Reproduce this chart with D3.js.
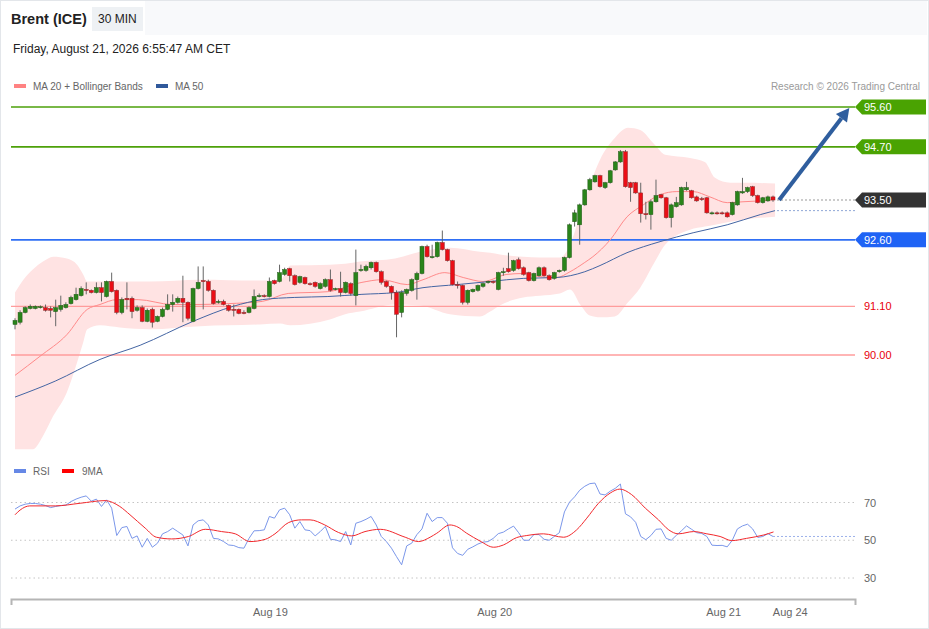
<!DOCTYPE html>
<html>
<head>
<meta charset="utf-8">
<script src="https://cdn.jsdelivr.net/npm/d3@7"></script>
<style>
  html, body { margin: 0; padding: 0; background: #fff; }
  svg { display: block; font-family: "Liberation Sans", Arial, sans-serif; }
</style>
</head>
<body>
<div id="chart"></div>
<script>
// 30 min candles, index 0 = first bar on the left
const opens = [
  90.69, 90.74, 90.96, 91.05, 91.05, 91.07, 91.07, 91.05, 90.98, 91.03,
  91.07, 91.16, 91.25, 91.34, 91.48, 91.46, 91.41, 91.52, 91.32, 91.66,
  91.46, 90.96, 91.28, 91.28, 91.01, 91.07, 90.76, 91.03, 90.76, 90.87,
  91.03, 91.14, 91.19, 91.28, 91.19, 90.76, 91.50, 91.68, 91.66, 91.46,
  91.19, 91.21, 91.12, 91.03, 91.03, 90.96, 90.96, 91.05, 91.32, 91.34,
  91.32, 91.68, 91.66, 91.82, 91.95, 91.79, 91.64, 91.75, 91.61, 91.64,
  91.50, 91.55, 91.70, 91.48, 91.50, 91.41, 91.61, 91.34, 91.91, 91.91,
  91.97, 92.09, 91.88, 91.66, 91.55, 91.41, 90.96, 91.39, 91.46, 91.70,
  91.84, 92.45, 92.20, 92.22, 92.54, 92.38, 92.13, 91.59, 91.57, 91.19,
  91.43, 91.46, 91.55, 91.64, 91.66, 91.48, 91.86, 91.95, 91.91, 92.15,
  91.97, 91.86, 91.68, 91.79, 91.97, 91.79, 91.73, 91.88, 91.91, 92.20,
  93.01, 92.94, 93.39, 93.73, 93.91, 94.05, 93.78, 93.89, 94.18, 94.36,
  94.59, 93.89, 93.89, 93.66, 93.19, 93.17, 93.46, 93.62, 93.55, 93.10,
  93.35, 93.39, 93.73, 93.71, 93.57, 93.53, 93.55, 93.19, 93.21, 93.21,
  93.21, 93.17, 93.39, 93.66, 93.69, 93.80, 93.60, 93.44, 93.48, 93.57
];
const highs = [
  90.83, 91.01, 91.10, 91.14, 91.12, 91.12, 91.14, 91.10, 91.25, 91.34,
  91.19, 91.34, 91.52, 91.55, 91.64, 91.48, 91.64, 91.64, 91.68, 91.86,
  91.48, 91.30, 91.64, 91.32, 91.12, 91.12, 91.05, 91.07, 90.89, 91.07,
  91.37, 91.37, 91.32, 91.79, 91.21, 91.52, 92.00, 92.00, 91.70, 91.48,
  91.25, 91.25, 91.14, 91.14, 91.05, 91.01, 91.10, 91.48, 91.39, 91.37,
  91.75, 91.70, 92.04, 91.97, 91.97, 91.82, 91.79, 91.77, 91.64, 91.66,
  91.64, 91.73, 91.93, 91.52, 91.88, 91.66, 91.64, 92.38, 92.04, 92.04,
  92.11, 92.11, 91.91, 91.68, 91.57, 91.46, 91.46, 91.50, 91.73, 91.88,
  92.47, 92.49, 92.49, 92.56, 92.81, 92.40, 92.15, 91.66, 91.59, 91.48,
  91.50, 91.59, 91.64, 91.68, 91.68, 91.88, 91.97, 92.31, 92.15, 92.20,
  92.00, 91.88, 91.86, 92.00, 92.00, 91.82, 91.88, 91.93, 92.22, 92.97,
  93.28, 93.42, 93.75, 94.00, 94.07, 94.07, 93.91, 94.18, 94.38, 94.63,
  94.63, 93.91, 93.91, 93.89, 93.46, 93.51, 93.96, 93.64, 93.57, 93.42,
  93.57, 93.80, 93.91, 93.73, 93.60, 93.57, 93.57, 93.24, 93.24, 93.24,
  93.24, 93.46, 93.71, 94.00, 93.80, 93.82, 93.62, 93.57, 93.60, 93.60
];
const lows = [
  90.58, 90.69, 90.94, 91.03, 91.03, 91.05, 90.98, 90.85, 90.65, 90.98,
  91.05, 91.14, 91.23, 91.32, 91.37, 91.39, 91.39, 91.21, 91.30, 91.41,
  90.92, 90.92, 91.03, 90.83, 90.98, 90.74, 90.74, 90.62, 90.74, 90.85,
  91.01, 90.98, 91.16, 90.74, 90.78, 90.74, 91.48, 91.03, 91.43, 91.14,
  91.16, 91.12, 90.98, 90.87, 90.92, 90.92, 90.94, 91.03, 91.30, 91.30,
  91.30, 91.59, 91.64, 91.79, 91.66, 91.57, 91.61, 91.59, 91.57, 91.52,
  91.48, 91.52, 91.43, 91.46, 91.32, 91.39, 91.34, 91.12, 91.88, 91.88,
  91.93, 91.86, 91.59, 91.52, 91.25, 90.40, 90.85, 91.34, 91.43, 91.25,
  91.82, 92.20, 92.18, 92.20, 92.36, 92.11, 91.57, 91.50, 91.14, 91.14,
  91.41, 91.43, 91.52, 91.61, 91.61, 91.46, 91.79, 91.86, 91.88, 91.93,
  91.79, 91.66, 91.66, 91.77, 91.77, 91.68, 91.70, 91.86, 91.88, 92.18,
  92.90, 92.49, 93.37, 93.71, 93.89, 93.78, 93.75, 93.87, 94.16, 94.34,
  93.78, 93.46, 93.64, 92.99, 93.06, 92.83, 93.44, 93.53, 93.08, 92.88,
  93.33, 93.37, 93.71, 93.53, 93.46, 93.48, 93.19, 93.17, 93.17, 93.17,
  93.10, 93.15, 93.37, 93.64, 93.66, 93.57, 93.42, 93.42, 93.46, 93.46
];
const closes = [
  90.78, 90.96, 91.07, 91.10, 91.10, 91.09, 91.01, 91.01, 91.07, 91.12,
  91.14, 91.30, 91.37, 91.50, 91.46, 91.41, 91.52, 91.41, 91.66, 91.43,
  90.96, 91.25, 91.25, 90.98, 91.07, 90.76, 91.01, 90.74, 90.87, 91.03,
  91.14, 91.19, 91.28, 91.19, 90.83, 91.50, 91.64, 91.66, 91.46, 91.16,
  91.21, 91.14, 91.01, 91.01, 90.94, 90.94, 91.07, 91.32, 91.34, 91.32,
  91.66, 91.61, 91.86, 91.93, 91.79, 91.59, 91.77, 91.61, 91.59, 91.55,
  91.61, 91.70, 91.46, 91.50, 91.41, 91.64, 91.39, 91.86, 91.93, 92.00,
  92.09, 91.88, 91.64, 91.55, 91.41, 90.92, 91.41, 91.48, 91.70, 91.84,
  92.45, 92.22, 92.22, 92.54, 92.38, 92.13, 91.59, 91.57, 91.19, 91.46,
  91.48, 91.57, 91.61, 91.66, 91.64, 91.86, 91.88, 91.88, 92.13, 91.95,
  91.82, 91.68, 91.84, 91.97, 91.79, 91.70, 91.86, 91.91, 92.20, 92.94,
  93.21, 93.39, 93.73, 93.96, 94.05, 93.80, 93.89, 94.16, 94.36, 94.59,
  93.80, 93.78, 93.66, 93.19, 93.17, 93.46, 93.60, 93.55, 93.10, 93.39,
  93.44, 93.78, 93.78, 93.55, 93.48, 93.51, 93.21, 93.21, 93.19, 93.19,
  93.12, 93.44, 93.69, 93.69, 93.78, 93.60, 93.44, 93.55, 93.57, 93.50
];

// bollinger band + moving averages, read at bar positions (fractional index)
const bandIdx = [0, 2, 3.5, 5.5, 7.5, 10.2, 12.2, 13.4, 14.2, 16.7, 20.6, 26.5, 36.4, 48.2, 52.1, 54.1, 61.9, 64.9, 67.8, 74.7,
  79.6, 85.5, 91.4, 93.4, 95.3, 99.9, 103.2, 107.1, 109.1, 111.1, 113, 115, 117.9, 120.5, 122.9, 125.8, 127.8, 132.7, 135.6, 137.6,
  140.6, 143.5, 149.4];
const bandUpper = [91.41, 91.75, 91.93, 92.11, 92.22, 92.18, 92.04, 91.82, 91.66, 91.66, 91.66, 91.66, 91.70, 91.68, 91.68, 92.02, 92.04, 92.06, 92.11, 92.18,
  92.33, 92.42, 92.33, 92.31, 92.27, 92.22, 92.20, 92.20, 92.49, 93.17, 93.84, 94.41, 94.90, 95.13, 95.08, 94.74, 94.52, 94.45, 94.36, 94.00,
  93.89, 93.89, 93.87];
const bandLower = [87.87, 87.87, 87.87, 88.17, 88.62, 89.16, 89.83, 90.28, 90.58, 90.67, 90.62, 90.58, 90.65, 90.69, 90.71, 90.67, 90.80, 90.92, 90.98, 91.14,
  91.12, 90.92, 90.87, 90.98, 91.12, 91.30, 91.34, 91.39, 91.48, 91.14, 90.89, 90.85, 90.87, 91.19, 91.52, 92.11, 92.49, 92.83, 92.90, 92.94,
  93.01, 93.06, 93.12];

const ma20Idx = [0, 4.9, 10.2, 14.2, 16.7, 20, 24.2, 30.9, 35.4, 41.9, 48.6, 53.7, 61.5, 68.2, 72.1, 77.1, 80.2, 84.5, 88.1,
  92, 96.7, 99.9, 103.2, 106.5, 109.1, 112, 113.6, 117, 120.3, 123.5, 126.8, 130.1, 133.3, 136.6, 140, 143.1, 146.5, 149.4];
const ma20Val = [89.54, 89.97, 90.46, 91.03, 91.14, 91.25, 91.25, 91.14, 91.14, 91.16, 91.21, 91.39, 91.43, 91.64, 91.70, 91.59, 91.70, 91.86, 91.75,
  91.66, 91.82, 91.84, 91.77, 91.75, 91.88, 92.09, 92.22, 92.60, 93.12, 93.39, 93.62, 93.69, 93.69, 93.57, 93.44, 93.46, 93.48, 93.51];

const ma50Idx = [0, 7.9, 16.7, 24.6, 35, 42.9, 48.6, 55, 61.5, 68.2, 74.7, 80.2, 86.9, 93.4, 99.9, 106.5, 112, 115, 120.3, 126.8, 133.3, 140, 146.5, 149.4];
const ma50Val = [89.05, 89.41, 89.90, 90.22, 90.76, 91.10, 91.25, 91.30, 91.32, 91.37, 91.41, 91.52, 91.59, 91.66, 91.73, 91.75, 91.88, 92.02, 92.31, 92.56, 92.76, 92.94, 93.17, 93.26];

// RSI (one value per bar) and its 9 period average
const rsiVal = [
  66.5, 68.2, 69.1, 69.5, 69.5, 69.1, 68.4, 67.3, 67.9, 68.4,
  68.6, 70.5, 71.8, 72.8, 73.5, 70.7, 71.8, 67.9, 71.4, 67,
  52.5, 56.7, 57.3, 51, 52.3, 46.3, 51, 46.3, 48.4,
  53.4, 54.6, 56.4, 54.6, 52.8, 47, 58.1, 60.3, 60.8, 58.1,
  51, 50.7, 49.3, 47.5, 47.2, 46.1, 45.8, 51, 55, 55.1,
  55.5, 62.6, 61.7, 66.1, 67, 63.5, 56.4, 59.9, 55.5, 55.1,
  52.3, 54.6, 57.3, 50.5, 50.2, 49.3, 54.6, 47.5, 59, 59.9,
  61.1, 62.6, 58.1, 52, 49.3, 45.8, 41.3, 37, 47, 48.5,
  53, 56, 64.3, 59.9, 62, 62, 59,
  46, 43, 42, 45.2, 46.5, 48, 49, 49.3, 51, 53.5, 54.3, 56,
  57.5, 54, 50, 50, 53, 53, 50.5, 50, 52, 54,
  65, 70.2, 73, 76.5, 78.6, 80, 80.3, 74.5, 74, 76,
  77.5, 79.8, 64, 62.4, 59.5, 52, 50.3, 52.5, 55.8, 56,
  51, 50, 52.6, 55, 57.6, 55.8, 54, 53.6, 52, 47.4,
  47.2, 47.3, 46.5, 50, 56, 57.6, 58.5, 56, 51.5, 52,
  53.5, 52
];
const rsiMaIdx = [0, 1, 2.9, 7.9, 12.8, 17.7, 20.6, 22.6, 25.6, 27.8, 30.8, 34.1, 37.4, 40.6, 43.3, 46.2, 49.2, 51.1, 53.8, 56.3,
  58, 60.9, 63.6, 66.2, 68.8, 71.8, 76.7, 79.3, 81.6, 82.9, 85.5, 86.8, 88.8, 91.4, 94.1, 96, 98.6, 100.6, 103.9, 107.8,
  110.4, 112.4, 114.7, 117, 118.9, 121.2, 123.9, 126.5, 128.5, 130.4, 133.4, 136, 138.6, 140.9, 143.8, 147.2, 149.1];
const rsiMaVal = [63.5, 66, 68.2, 68.2, 69.6, 71, 67.9, 63.5, 56.4, 51.6, 50.7, 52, 55.8, 54.6, 53.4, 49.3, 50.5, 53.4, 59.4, 60.8,
  60.8, 58.1, 54.1, 52.3, 54.6, 55.8, 51.6, 49.3, 51.6, 53.7, 58.1, 57.3, 53.7, 49.6, 46.3, 47.5, 51.4, 52.5, 53.4, 51.6,
  55.5, 61.7, 69.6, 75, 77.1, 74.2, 67, 60.8, 55.5, 53.4, 54.6, 53.4, 52, 49.8, 51, 52.8, 54.4];

// key levels
const levelPrices = [95.60, 94.70, 93.50, 92.60, 91.10, 90.00];
const levelKinds = ['green', 'green', 'close', 'blue', 'red', 'red'];

const rsiTicks = [70, 50, 30];
const dayTickIdx = [50.1, 94.2, 139.2, 152.3];
const dayLabels = ['Aug 19', 'Aug 20', 'Aug 21', 'Aug 24'];

// projected move: from last bar to the top target
const arrowFrom = [150.2, 93.50];
const arrowTo = [164.0, 95.58];

const width = 929;
const height = 629;
const plotLeft = 11;
const plotRight = 855;

const svg = d3.select('#chart').append('svg')
  .attr('width', width)
  .attr('height', height);

const x = d3.scaleLinear().domain([0, opens.length - 1]).range([15, 773]);
const y = d3.scaleLinear().domain([90, 95.6]).range([355, 107]);
const yRsi = d3.scaleLinear().domain([30, 70]).range([578, 502.5]);

// frame + header
svg.append('rect').attr('x', 0.5).attr('y', 0.5).attr('width', width - 1).attr('height', height - 1)
  .attr('fill', '#fff').attr('stroke', '#e3e6ea');
svg.append('rect').attr('x', 145).attr('y', 1).attr('width', width - 147).attr('height', 34).attr('fill', '#f8f9fb');
svg.append('rect').attr('x', 92).attr('y', 7).attr('width', 51).attr('height', 24).attr('fill', '#eef1f4');
svg.append('text').attr('x', 11).attr('y', 24).attr('font-size', 14.5).attr('font-weight', 'bold').attr('fill', '#222')
  .text('Brent (ICE)');
svg.append('text').attr('x', 98).attr('y', 23).attr('font-size', 12).attr('fill', '#222').text('30 MIN');
svg.append('text').attr('x', 13).attr('y', 53).attr('font-size', 12).attr('fill', '#222')
  .text('Friday, August 21, 2026 6:55:47 AM CET');

// legends
const legend = svg.append('g').attr('font-size', 10).attr('fill', '#666');
legend.append('rect').attr('x', 14).attr('y', 84).attr('width', 12).attr('height', 4).attr('fill', '#ff8282');
legend.append('text').attr('x', 33).attr('y', 90).text('MA 20 + Bollinger Bands');
legend.append('rect').attr('x', 156).attr('y', 84).attr('width', 12).attr('height', 4).attr('fill', '#30599b');
legend.append('text').attr('x', 175).attr('y', 90).text('MA 50');
legend.append('text').attr('x', 920).attr('y', 90).attr('text-anchor', 'end').attr('fill', '#9a9a9a')
  .text('Research \u00a9 2026 Trading Central');
legend.append('rect').attr('x', 14).attr('y', 469).attr('width', 12).attr('height', 4).attr('fill', '#6688e6');
legend.append('text').attr('x', 33).attr('y', 475).text('RSI');
legend.append('rect').attr('x', 62).attr('y', 469).attr('width', 12).attr('height', 4).attr('fill', '#f00');
legend.append('text').attr('x', 82).attr('y', 475).text('9MA');

// bollinger band
const band = bandIdx.map((d, i) => ({ i: d, hi: bandUpper[i], lo: bandLower[i] }));
svg.append('path').datum(band)
  .attr('fill', '#ffe3e3')
  .attr('d', d3.area().x((d) => x(d.i)).y0((d) => y(d.lo)).y1((d) => y(d.hi)).curve(d3.curveMonotoneX));

// level lines
const levelColor = { green: '#4da10a', blue: '#2f6ff5', red: '#ff9c9c' };
const levels = levelPrices.map((p, i) => ({ p, kind: levelKinds[i] }));
svg.append('g').selectAll('line')
  .data(levels.filter((d) => d.kind !== 'close'))
  .join('line')
  .attr('x1', plotLeft).attr('x2', plotRight)
  .attr('y1', (d) => y(d.p)).attr('y2', (d) => y(d.p))
  .attr('stroke', (d) => levelColor[d.kind])
  .attr('stroke-width', (d) => (d.kind === 'red' ? 1.3 : 1.6));

// moving averages
const ma20 = ma20Idx.map((d, i) => [d, ma20Val[i]]);
const ma50 = ma50Idx.map((d, i) => [d, ma50Val[i]]);
const priceLine = d3.line().x((d) => x(d[0])).y((d) => y(d[1])).curve(d3.curveMonotoneX);
svg.append('path').datum(ma20).attr('fill', 'none').attr('stroke', '#ff8a8a').attr('stroke-width', 1).attr('d', priceLine);
svg.append('path').datum(ma50).attr('fill', 'none').attr('stroke', '#4465a3').attr('stroke-width', 1).attr('d', priceLine);

// dotted extensions after the last bar
const last = opens.length - 1;
svg.append('line').attr('x1', x(last) + 4).attr('x2', plotRight)
  .attr('y1', y(closes[last])).attr('y2', y(closes[last]))
  .attr('stroke', '#999').attr('stroke-dasharray', '2,2');
svg.append('line').attr('x1', x(last) + 4).attr('x2', plotRight)
  .attr('y1', y(ma50Val[ma50Val.length - 1])).attr('y2', y(ma50Val[ma50Val.length - 1]))
  .attr('stroke', '#8ea6d6').attr('stroke-dasharray', '2,2');

// candles
const candles = opens.map((o, i) => ({ i, o, h: highs[i], l: lows[i], c: closes[i] }));
const cg = svg.append('g');
cg.selectAll('line')
  .data(candles)
  .join('line')
  .attr('x1', (d) => x(d.i)).attr('x2', (d) => x(d.i))
  .attr('y1', (d) => y(d.h)).attr('y2', (d) => y(d.l))
  .attr('stroke', '#666').attr('stroke-width', 1);
cg.selectAll('rect')
  .data(candles)
  .join('rect')
  .attr('x', (d) => x(d.i) - 2)
  .attr('width', 4)
  .attr('y', (d) => y(Math.max(d.o, d.c)))
  .attr('height', (d) => Math.max(1, Math.abs(y(d.o) - y(d.c))))
  .attr('fill', (d) => (d.c >= d.o ? '#2a841a' : '#ea0e16'))
  .attr('stroke', (d) => (d.c >= d.o ? '#225a18' : '#8a2a2a'))
  .attr('stroke-width', 0.5);

// arrow
const ax1 = x(arrowFrom[0]);
const ay1 = y(arrowFrom[1]);
const ax2 = x(arrowTo[0]);
const ay2 = y(arrowTo[1]);
const ang = Math.atan2(ay2 - ay1, ax2 - ax1);
const headLen = 13;
const headW = 7;
const bx = ax2 - headLen * Math.cos(ang);
const by = ay2 - headLen * Math.sin(ang);
svg.append('line').attr('x1', ax1).attr('y1', ay1).attr('x2', bx).attr('y2', by)
  .attr('stroke', '#2f5e9e').attr('stroke-width', 4);
svg.append('path')
  .attr('d', `M${ax2},${ay2}L${bx + headW * Math.sin(ang)},${by - headW * Math.cos(ang)}L${bx - headW * Math.sin(ang)},${by + headW * Math.cos(ang)}Z`)
  .attr('fill', '#2f5e9e');

// level labels
const boxFill = { green: '#4aa302', close: '#333333', blue: '#1f63f5' };
const lab = svg.append('g').attr('font-size', 11);
levels.forEach((d) => {
  const ly = y(d.p);
  if (d.kind === 'red') {
    lab.append('text').attr('x', 864).attr('y', ly + 4).attr('fill', '#e8000b').text(d.p.toFixed(2));
  } else {
    lab.append('path')
      .attr('d', `M855,${ly}L862,${ly - 7.5}H926V${ly + 7.5}H862Z`)
      .attr('fill', boxFill[d.kind]);
    lab.append('text').attr('x', 864).attr('y', ly + 4).attr('fill', '#fff').text(d.p.toFixed(2));
  }
});

// RSI panel
svg.append('g').selectAll('line')
  .data(rsiTicks)
  .join('line')
  .attr('x1', plotLeft).attr('x2', plotRight)
  .attr('y1', (d) => yRsi(d)).attr('y2', (d) => yRsi(d))
  .attr('stroke', '#c4c4c4').attr('stroke-dasharray', '1.5,3');
svg.append('g').attr('font-size', 11).attr('fill', '#666')
  .selectAll('text')
  .data(rsiTicks)
  .join('text')
  .attr('x', 864).attr('y', (d) => yRsi(d) + 4)
  .text((d) => d);

const rsiLine = d3.line().x((d, i) => x(i)).y((d) => yRsi(d));
svg.append('path').datum(rsiVal).attr('fill', 'none').attr('stroke', '#7b97ea').attr('stroke-width', 1).attr('d', rsiLine);
svg.append('line').attr('x1', x(rsiVal.length - 1)).attr('x2', plotRight)
  .attr('y1', yRsi(rsiVal[rsiVal.length - 1])).attr('y2', yRsi(rsiVal[rsiVal.length - 1]))
  .attr('stroke', '#9db1ea').attr('stroke-dasharray', '2,2');
const rsiMa = rsiMaIdx.map((d, i) => [d, rsiMaVal[i]]);
svg.append('path').datum(rsiMa).attr('fill', 'none').attr('stroke', '#f2282c').attr('stroke-width', 1)
  .attr('d', d3.line().x((d) => x(d[0])).y((d) => yRsi(d[1])).curve(d3.curveMonotoneX));

// time axis
const xAxisScale = d3.scaleLinear().domain([x.invert(plotLeft), x.invert(plotRight)]).range([plotLeft, plotRight]);
const axisG = svg.append('g')
  .attr('transform', 'translate(0,599)')
  .call(d3.axisBottom(xAxisScale)
    .tickValues(dayTickIdx)
    .tickFormat((d, i) => dayLabels[i])
    .tickSizeInner(0)
    .tickSizeOuter(6)
    .tickPadding(9));
axisG.select('.domain').attr('stroke', '#b5b5b5').attr('stroke-width', 2);
axisG.selectAll('text').attr('fill', '#666').attr('font-size', 11).attr('font-family', '"Liberation Sans", Arial, sans-serif');
</script>
</body>
</html>
